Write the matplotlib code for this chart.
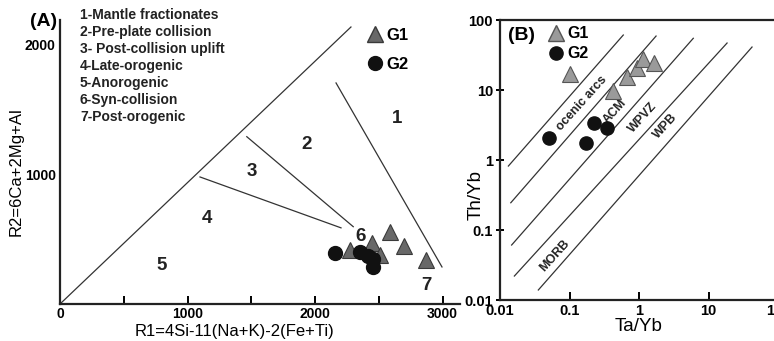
import matplotlib
matplotlib.use("Agg")
import matplotlib.pyplot as plt
from matplotlib.lines import Line2D

plt.rcParams["font.family"] = ["Liberation Sans", "DejaVu Sans"]
plt.rcParams["font.weight"] = "bold"

# --- panel A: R1-R2 diagram ---
a_g1_r1 = [2588, 2700, 2871, 2275, 2445, 2510]
a_g1_r2 = [558, 450, 340, 417, 469, 378]
a_g2_r1 = [2157, 2353, 2418, 2453, 2457]
a_g2_r2 = [396, 405, 371, 350, 288]

# field boundaries (R1, R2) start -> end
a_bounds = [
    ((0, 0), (2282, 2139)),
    ((2165, 1707), (2996, 286)),
    ((1465, 1292), (2300, 597)),
    ((1098, 981), (2204, 588)),
]
a_field_ids = ["1", "2", "3", "4", "5", "6", "7"]
a_field_pos = [(2640, 1434), (1935, 1228), (1503, 1022), (1150, 662),
               (797, 301), (2361, 520), (2871, 139)]
a_field_names = [
    "1-Mantle fractionates", "2-Pre-plate collision", "3- Post-collision uplift",
    "4-Late-orogenic", "5-Anorogenic", "6-Syn-collision", "7-Post-orogenic",
]

# --- panel B: Ta/Yb vs Th/Yb ---
b_g1_ta = [0.102, 0.42, 0.665, 0.93, 1.14, 1.67]
b_g1_th = [16.9, 9.7, 15.2, 20.4, 27.7, 24.7]
b_g2_ta = [0.051, 0.173, 0.228, 0.343]
b_g2_th = [2.08, 1.73, 3.41, 2.84]

b_bounds = [
    ((0.0132, 0.82), (0.594, 61)),
    ((0.0143, 0.245), (1.76, 59)),
    ((0.0147, 0.061), (6.04, 54.8)),
    ((0.0161, 0.022), (18.5, 46.9)),
    ((0.0356, 0.0139), (42.3, 41.1)),
]
b_field_names = ["ocenic arcs", "ACM", "WPVZ", "WPB", "MORB"]
b_field_pos = [(0.151, 6.5), (0.452, 4.9), (1.12, 4.07), (2.42, 3.0), (0.0618, 0.043)]

W, H = 774, 341
fig = plt.figure(figsize=(W / 100, H / 100), dpi=100)

def px_axes(l, t, r, b):
    return fig.add_axes([l / W, 1 - b / H, (r - l) / W, (b - t) / H])

# panel A
ax = px_axes(60, 20, 460, 304)
ax.set_xlim(0, 400 / 0.1275)
ax.set_ylim(0, 284 / 0.1295)
for s in ["top", "right"]:
    ax.spines[s].set_visible(False)
for s in ["left", "bottom"]:
    ax.spines[s].set_linewidth(1.6)
    ax.spines[s].set_color("#222222")
for (x0, y0), (x1, y1) in a_bounds:
    ax.plot([x0, x1], [y0, y1], color="#333333", lw=0.9)
ax.plot(a_g1_r1, a_g1_r2, "^", ms=11, mfc="#686868", mec="#3a3a3a", mew=0.8, ls="none", zorder=3)
ax.plot(a_g2_r1, a_g2_r2, "o", ms=10, mfc="#111111", mec="#111111", ls="none", zorder=4)
for t, (x, y) in zip(a_field_ids, a_field_pos):
    ax.text(x, y, t, fontsize=13.5, ha="center", va="center", color="#222222")
ax.set_xticks([0, 500, 1000, 1500, 2000, 2500, 3000])
ax.set_xticklabels(["0", "", "1000", "", "2000", "", "3000"])
ax.set_yticks([1000, 2000])
ax.tick_params(axis="x", direction="in", length=6, width=1.4, labelsize=10, pad=2)
ax.tick_params(axis="y", length=0, labelsize=10, pad=3)
ax.set_xlabel("R1=4Si-11(Na+K)-2(Fe+Ti)", fontsize=12)
ax.xaxis.set_label_coords(0.435, -0.07)
ax.set_ylabel("R2=6Ca+2Mg+Al", fontsize=12)
ax.yaxis.set_label_coords(-0.09, 0.465)
ax.text(-0.0075, 0.993, "(A)", transform=ax.transAxes, fontsize=14, ha="right", va="center")
for i, name in enumerate(a_field_names):
    ax.text(0.05, 1.018 - i * 0.06, name, transform=ax.transAxes, fontsize=10,
            ha="left", va="center", color="#222222")
h1 = Line2D([], [], marker="^", ls="none", ms=11, mfc="#686868", mec="#3a3a3a")
h2 = Line2D([], [], marker="o", ls="none", ms=10, mfc="#111111", mec="#111111")
ax.legend([h1, h2], ["G1", "G2"], loc="upper left", bbox_to_anchor=(0.745, 0.995),
          frameon=False, fontsize=12, handletextpad=0.1, labelspacing=0.85,
          borderaxespad=0, handlelength=1.2)

# panel B
bx = px_axes(500, 20, 778, 300)
bx.set_xscale("log")
bx.set_yscale("log")
bx.set_xlim(0.01, 100)
bx.set_ylim(0.01, 100)
for s in bx.spines.values():
    s.set_linewidth(1.6)
    s.set_color("#222222")
for (x0, y0), (x1, y1) in b_bounds:
    bx.plot([x0, x1], [y0, y1], color="#333333", lw=0.9)
for t, (x, y) in zip(b_field_names, b_field_pos):
    bx.text(x, y, t, fontsize=9, rotation=48, ha="center", va="center",
            rotation_mode="anchor", color="#222222")
bx.plot(b_g1_ta, b_g1_th, "^", ms=12, mfc="#9a9a9a", mec="#555555", mew=0.8, ls="none", zorder=3)
bx.plot(b_g2_ta, b_g2_th, "o", ms=9.5, mfc="#111111", mec="#111111", ls="none", zorder=4)
bx.set_xticks([0.01, 0.1, 1, 10, 100])
bx.set_xticklabels(["0.01", "0.1", "1", "10", "100"])
bx.set_yticks([0.01, 0.1, 1, 10, 100])
bx.set_yticklabels(["0.01", "0.1", "1", "10", "100"])
bx.minorticks_off()
bx.tick_params(axis="x", direction="in", length=6, width=1.4, labelsize=10.5, pad=3)
bx.tick_params(axis="y", direction="inout", length=6, width=1.4, labelsize=10.5, pad=2)
bx.set_xlabel("Ta/Yb", fontsize=13.5, labelpad=0)
bx.set_ylabel("Th/Yb", fontsize=13.5, labelpad=0)
bx.yaxis.set_label_coords(-0.054, 0.375)
bx.text(0.03, 0.946, "(B)", transform=bx.transAxes, fontsize=14, ha="left", va="center")
h3 = Line2D([], [], marker="^", ls="none", ms=12, mfc="#9a9a9a", mec="#555555")
h4 = Line2D([], [], marker="o", ls="none", ms=9.5, mfc="#111111", mec="#111111")
bx.legend([h3, h4], ["G1", "G2"], loc="upper left", bbox_to_anchor=(0.143, 1.0),
          frameon=False, fontsize=11.5, handletextpad=0.1, labelspacing=0.3,
          borderaxespad=0, handlelength=1.2)

fig.savefig("out.png", dpi=100)
